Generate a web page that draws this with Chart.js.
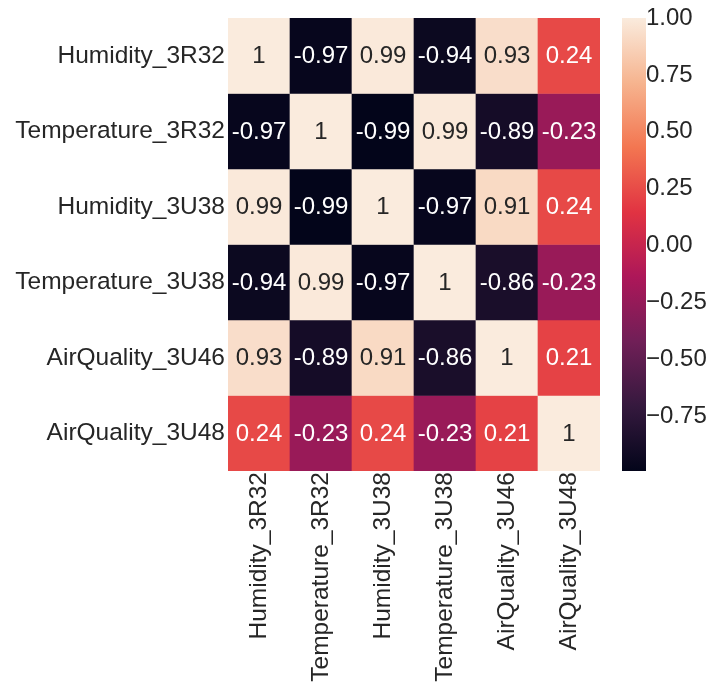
<!DOCTYPE html>
<html>
<head>
<meta charset="utf-8">
<script src="https://cdn.jsdelivr.net/npm/chart.js@4.4.0/dist/chart.umd.min.js"></script>
<style>
  body { margin: 0; background: #fff; }
  #wrap { width: 707px; height: 687px; position: relative; }
</style>
</head>
<body>
<div id="wrap"><canvas id="heat"></canvas></div>
<script>
const labels = ['Humidity_3R32', 'Temperature_3R32', 'Humidity_3U38', 'Temperature_3U38', 'AirQuality_3U46', 'AirQuality_3U48'];

const rowHum3R32 = [1, -0.97, 0.99, -0.94, 0.93, 0.24];
const rowTemp3R32 = [-0.97, 1, -0.99, 0.99, -0.89, -0.23];
const rowHum3U38 = [0.99, -0.99, 1, -0.97, 0.91, 0.24];
const rowTemp3U38 = [-0.94, 0.99, -0.97, 1, -0.86, -0.23];
const rowAir3U46 = [0.93, -0.89, 0.91, -0.86, 1, 0.21];
const rowAir3U48 = [0.24, -0.23, 0.24, -0.23, 0.21, 1];
const rows = [rowHum3R32, rowTemp3R32, rowHum3U38, rowTemp3U38, rowAir3U46, rowAir3U48];

const cbTicks = [1, 0.75, 0.5, 0.25, 0, -0.25, -0.5, -0.75];

// rocket colormap anchors
const rocket = [
  [0, [3, 5, 26]],
  [1 / 7, [53, 25, 62]],
  [2 / 7, [112, 31, 87]],
  [3 / 7, [173, 23, 89]],
  [4 / 7, [225, 51, 66]],
  [5 / 7, [243, 118, 81]],
  [6 / 7, [246, 180, 143]],
  [1, [250, 235, 221]]
];

const vmin = Math.min(...rows.flat());
const vmax = Math.max(...rows.flat());

function rocketAt(t) {
  t = Math.max(0, Math.min(1, t));
  for (let k = 1; k < rocket.length; k++) {
    const [p1, c1] = rocket[k];
    const [p0, c0] = rocket[k - 1];
    if (t <= p1) {
      const f = (t - p0) / (p1 - p0);
      return c0.map((c, n) => Math.round(c + (c1[n] - c) * f));
    }
  }
  return rocket[rocket.length - 1][1];
}

function colorFor(v) {
  const c = rocketAt((v - vmin) / (vmax - vmin));
  return 'rgb(' + c.join(',') + ')';
}

function lum(v) {
  const c = rocketAt((v - vmin) / (vmax - vmin)).map(x => {
    x = x / 255;
    return x <= 0.03928 ? x / 12.92 : Math.pow((x + 0.055) / 1.055, 2.4);
  });
  return 0.2126 * c[0] + 0.7152 * c[1] + 0.0722 * c[2];
}

const datasets = rows.map((row, i) => ({
  label: labels[i],
  data: row.map(() => [i, i + 1]),
  values: row,
  backgroundColor: row.map(colorFor),
  borderWidth: 0,
  borderSkipped: false,
  barPercentage: 1,
  categoryPercentage: 1,
  yAxisID: 'y'
}));

const FONT = 'Liberation Sans, Arial, sans-serif';

const annotate = {
  id: 'annotate',
  afterDatasetsDraw(chart) {
    const ctx = chart.ctx;
    ctx.save();
    ctx.font = '24px ' + FONT;
    ctx.textAlign = 'center';
    ctx.textBaseline = 'middle';
    chart.data.datasets.forEach((ds, i) => {
      chart.getDatasetMeta(i).data.forEach((bar, j) => {
        const v = ds.values[j];
        ctx.fillStyle = lum(v) > 0.408 ? '#262626' : '#ffffff';
        ctx.fillText(String(v), bar.x, (bar.y + bar.base) / 2 + 1);
      });
    });
    ctx.restore();
  }
};

const colorbar = {
  id: 'colorbar',
  afterDraw(chart) {
    const cb = chart.scales.cb;
    const ctx = chart.ctx;
    const top = cb.getPixelForValue(vmax);
    const bottom = cb.getPixelForValue(vmin);
    const g = ctx.createLinearGradient(0, bottom, 0, top);
    rocket.forEach(([p, c]) => g.addColorStop(p, 'rgb(' + c.join(',') + ')'));
    ctx.save();
    ctx.fillStyle = g;
    ctx.fillRect(cb.left + 22, top, 24, bottom - top);
    ctx.restore();
  }
};

function noPad(scale) {
  scale.paddingTop = 0;
  scale.paddingBottom = 0;
  scale.paddingLeft = 0;
  scale.paddingRight = 0;
}

new Chart(document.getElementById('heat'), {
  type: 'bar',
  data: { labels: labels, datasets: datasets },
  plugins: [annotate, colorbar],
  options: {
    responsive: true,
    maintainAspectRatio: false,
    animation: false,
    layout: { padding: { top: 18, left: 0, right: 0, bottom: 0 } },
    plugins: { legend: { display: false }, tooltip: { enabled: false } },
    scales: {
      x: {
        stacked: true,
        grid: { display: false, drawTicks: false },
        border: { display: false },
        ticks: {
          autoSkip: false,
          minRotation: 90,
          maxRotation: 90,
          padding: 1,
          color: '#262626',
          font: { family: FONT, size: 24.5 }
        },
        afterFit(scale) { scale.height = 216; noPad(scale); }
      },
      y: {
        type: 'linear',
        stacked: false,
        reverse: true,
        min: 0,
        max: 6,
        grid: { display: false, drawTicks: false },
        border: { display: false },
        afterBuildTicks(scale) {
          scale.ticks = labels.map((l, i) => ({ value: i + 0.5 }));
        },
        ticks: {
          padding: 3,
          color: '#262626',
          font: { family: FONT, size: 24.5 },
          callback: (value, index) => labels[index]
        },
        afterFit(scale) { scale.width = 228; noPad(scale); }
      },
      cb: {
        type: 'linear',
        position: 'right',
        min: vmin,
        max: vmax,
        grid: { display: false, drawTicks: false },
        border: { display: false },
        afterBuildTicks(scale) {
          scale.ticks = cbTicks.map(v => ({ value: v }));
        },
        ticks: {
          padding: 46,
          color: '#262626',
          font: { family: FONT, size: 24 },
          callback: (value) => (value < 0 ? '\u2212' : '') + Math.abs(value).toFixed(2)
        },
        afterFit(scale) { scale.width = 107; noPad(scale); }
      }
    }
  }
});
</script>
</body>
</html>
